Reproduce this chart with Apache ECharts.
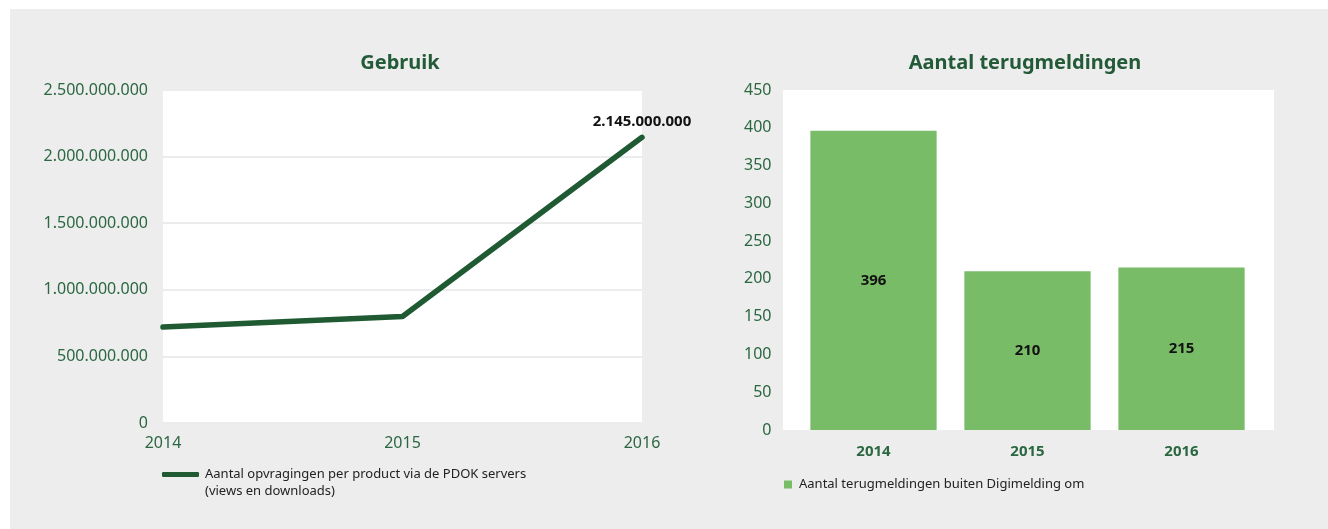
<!DOCTYPE html>
<html>
<head>
<meta charset="utf-8">
<script src="https://cdn.jsdelivr.net/npm/echarts@6/dist/echarts.min.js"></script>
<style>
  html, body { margin: 0; padding: 0; background: #fff; }
  #chart {
    position: absolute;
    left: 10px;
    top: 9px;
    width: 1318px;
    height: 520px;
    background: #ededed;
  }
</style>
</head>
<body>
<div id="chart"></div>
<script>
// gegevens
const jaren = ['2014', '2015', '2016'];
const opvragingen = [720000000, 800000000, 2145000000];   // aantal opvragingen
const terugmeldingen = [396, 210, 215];                     // terugmeldingen buiten Digimelding om
const lijnNaam = 'Aantal opvragingen per product via de PDOK servers';
const lijnNaam2 = '(views en downloads)';
const staafNaam = 'Aantal terugmeldingen buiten Digimelding om';

const donkerGroen = '#1f5a33';
const tekstGroen = '#2b6741';
const lichtGroen = '#79bc68';
const font = 'Noto Sans';

function punten(v) {
  return String(v).replace(/\B(?=(\d{3})+(?!\d))/g, '.');
}

const chart = echarts.init(document.getElementById('chart'));

const option = {
  animation: false,
  textStyle: { fontFamily: font },
  title: [
    {
      text: 'Gebruik',
      left: 385, top: 39, textAlign: 'center',
      textStyle: { color: '#235a37', fontSize: 20, fontWeight: 'bold', fontFamily: font }
    },
    {
      text: 'Aantal terugmeldingen',
      left: 1010, top: 39, textAlign: 'center',
      textStyle: { color: '#235a37', fontSize: 20, fontWeight: 'bold', fontFamily: font }
    }
  ],
  // witte achtergrond van het rechter plotvlak
  graphic: [
    {
      type: 'rect', z: -1,
      shape: { x: 773, y: 81, width: 491, height: 340 },
      style: { fill: '#fff' }
    },
    {
      type: 'text',
      left: 195, top: 476,
      style: { text: lijnNaam2, fill: '#222', fontSize: 13, fontFamily: font }
    }
  ],
  legend: [
    {
      data: [lijnNaam],
      left: 152, top: 456, padding: 0,
      icon: 'roundRect',
      itemWidth: 37, itemHeight: 5,
      textStyle: { color: '#222', fontSize: 13, lineHeight: 19, padding: [0, 0, 0, 1], fontFamily: font }
    },
    {
      data: [staafNaam],
      left: 774, top: 469, padding: 0,
      icon: 'rect',
      itemWidth: 8, itemHeight: 8,
      textStyle: { color: '#222', fontSize: 13, padding: [0, 0, 0, 2], fontFamily: font }
    }
  ],
  grid: [
    { left: 153, top: 81, width: 479, height: 333, show: true, backgroundColor: '#fff', borderWidth: 0 },
    { left: 786.5, top: 81, width: 462, height: 340 }
  ],
  xAxis: [
    {
      gridIndex: 0,
      type: 'category',
      data: jaren,
      boundaryGap: false,
      axisLine: { show: false },
      axisTick: { show: false },
      axisLabel: { color: tekstGroen, fontSize: 16, margin: 12, fontFamily: font }
    },
    {
      gridIndex: 1,
      type: 'category',
      data: jaren,
      axisLine: { show: false },
      axisTick: { show: false },
      axisLabel: { color: tekstGroen, fontSize: 15, fontWeight: 'bold', margin: 14, fontFamily: font }
    }
  ],
  yAxis: [
    {
      gridIndex: 0,
      type: 'value',
      min: 0, max: 2500000000, interval: 500000000,
      axisLine: { show: false },
      axisTick: { show: false },
      axisLabel: { color: tekstGroen, fontSize: 16, margin: 15, formatter: punten, fontFamily: font },
      splitLine: { lineStyle: { color: '#ececec', width: 2 } }
    },
    {
      gridIndex: 1,
      type: 'value',
      min: 0, max: 450, interval: 50,
      axisLine: { show: false },
      axisTick: { show: false },
      axisLabel: { color: tekstGroen, fontSize: 16, margin: 25, fontFamily: font },
      splitLine: { show: false }
    }
  ],
  series: [
    {
      name: lijnNaam,
      type: 'line',
      xAxisIndex: 0, yAxisIndex: 0,
      data: opvragingen,
      symbol: 'circle',
      symbolSize: 0.1,
      lineStyle: { color: donkerGroen, width: 5.5, cap: 'round' },
      itemStyle: { color: donkerGroen },
      label: {
        show: true,
        position: 'top',
        distance: 8,
        color: '#111',
        fontSize: 15,
        fontWeight: 'bold',
        fontFamily: font,
        formatter: p => (p.dataIndex === opvragingen.length - 1 ? punten(p.value) : '')
      }
    },
    {
      name: staafNaam,
      type: 'bar',
      xAxisIndex: 1, yAxisIndex: 1,
      data: terugmeldingen,
      barCategoryGap: '18%',
      itemStyle: { color: lichtGroen },
      label: {
        show: true,
        position: 'inside',
        color: '#111',
        fontSize: 15,
        fontWeight: 'bold',
        fontFamily: font
      }
    }
  ]
};

chart.setOption(option);
</script>
</body>
</html>
